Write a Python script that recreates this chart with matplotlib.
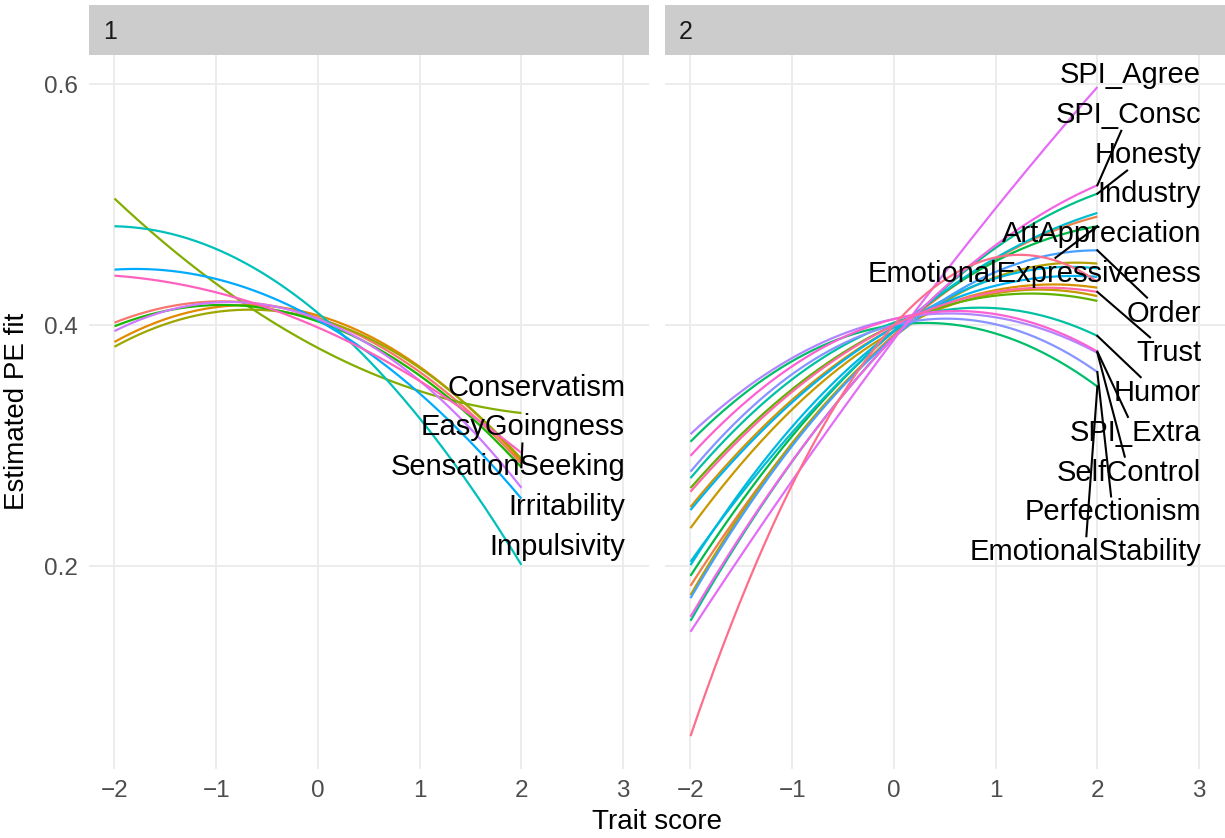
import numpy as np
import matplotlib
matplotlib.use("Agg")
from matplotlib import pyplot as plt

plt.rcParams["font.family"] = ["Liberation Sans", "DejaVu Sans"]

# traits in alphabetical order (ggplot colour order)
traits = ["Anxiety", "ArtAppreciation", "AttentionSeeking", "Authoritarianism",
          "Charisma", "Compassion", "Conformity", "Conservatism", "Creativity",
          "EasyGoingness", "EmotionalExpressiveness", "EmotionalStability",
          "Honesty", "Humor", "Impulsivity", "Industry", "Intellect",
          "Introspection", "Irritability", "Order", "Perfectionism",
          "SelfControl", "SensationSeeking", "SPI_Agree", "SPI_Consc",
          "SPI_Extra", "SPI_Neuro", "Trust", "WellBeing"]

# facet each trait is drawn in
facet = [1, 2, 1, 2, 2, 2, 1, 1, 2, 1, 2, 2, 2, 2, 1, 2, 2, 2, 1, 2, 2,
         2, 1, 2, 2, 2, 1, 2, 2]

# estimated PE fit at trait score -2, 0 and 2
fit_lo = [0.402, 0.1836, 0.386, 0.249, 0.2315, 0.1759, 0.382, 0.505, 0.2647,
          0.399, 0.1919, 0.3032, 0.1546, 0.273, 0.482, 0.2036, 0.2008, 0.2465,
          0.446, 0.1734, 0.2783, 0.3095, 0.395, 0.1455, 0.1579, 0.2915, 0.441,
          0.2617, 0.0589]
fit_mid = [0.406, 0.392, 0.408, 0.398, 0.395, 0.390, 0.405, 0.381, 0.400,
           0.403, 0.395, 0.400, 0.390, 0.402, 0.410, 0.395, 0.395, 0.398,
           0.404, 0.390, 0.400, 0.405, 0.405, 0.388, 0.390, 0.405, 0.398,
           0.400, 0.400]
fit_hi = [0.285, 0.490, 0.287, 0.431, 0.424, 0.451, 0.289, 0.327, 0.420,
          0.282, 0.482, 0.349, 0.509, 0.391, 0.201, 0.493, 0.447, 0.440,
          0.256, 0.462, 0.361, 0.377, 0.265, 0.5975, 0.516, 0.378, 0.294,
          0.4275, 0.436]

labels_1 = ["Conservatism", "EasyGoingness", "SensationSeeking",
            "Irritability", "Impulsivity"]
labels_2 = ["SPI_Agree", "SPI_Consc", "Honesty", "Industry", "ArtAppreciation",
            "EmotionalExpressiveness", "Order", "Trust", "Humor", "SPI_Extra",
            "SelfControl", "Perfectionism", "EmotionalStability"]


def hue_pal(n, c=100.0, l=65.0):
    # same as scales::hue_pal() -> hcl(h, c, l)
    hues = np.linspace(15, 375, n + 1)[:n]
    Xn, Yn, Zn = 95.047, 100.0, 108.883
    un = 4 * Xn / (Xn + 15 * Yn + 3 * Zn)
    vn = 9 * Yn / (Xn + 15 * Yn + 3 * Zn)
    out = []
    for h in hues:
        U = c * np.cos(np.radians(h))
        V = c * np.sin(np.radians(h))
        Y = Yn * ((l + 16) / 116) ** 3
        u = U / (13 * l) + un
        v = V / (13 * l) + vn
        X = 9 * Y * u / (4 * v)
        Z = -X / 3 - 5 * Y + 3 * Y / v
        X, Y2, Z = X / 100, Y / 100, Z / 100
        rgb = np.array([3.240479 * X - 1.537150 * Y2 - 0.498535 * Z,
                        -0.969256 * X + 1.875992 * Y2 + 0.041556 * Z,
                        0.055648 * X - 0.204043 * Y2 + 1.057311 * Z])
        rgb = np.where(rgb <= 0.0031308, 12.92 * rgb,
                       1.055 * np.abs(rgb) ** (1 / 2.4) - 0.055)
        out.append(tuple(np.clip(rgb, 0, 1)))
    return out


cols = hue_pal(len(traits))
xs = np.linspace(-2, 2, 200)

fig = plt.figure(figsize=(12.25, 8.38), dpi=100)
grid_col = "#EBEBEB"
axes = []
lefts = [0.0727, 0.5429]
w = 0.4567
bottom, top = 0.0829, 0.9348
for k, left in enumerate(lefts):
    ax = fig.add_axes([left, bottom, w, top - bottom])
    ax.set_xlim(-2.25, 3.25)
    ax.set_ylim(0.032, 0.6244)
    ax.set_xticks([-2, -1, 0, 1, 2, 3])
    ax.set_xticklabels(["\u22122", "\u22121", "0", "1", "2", "3"])
    ax.set_yticks([0.2, 0.4, 0.6])
    if k == 0:
        ax.set_yticklabels(["0.2", "0.4", "0.6"])
    else:
        ax.set_yticklabels([])
    ax.grid(True, color=grid_col, linewidth=1.3)
    ax.set_axisbelow(True)
    for s in ax.spines.values():
        s.set_visible(False)
    ax.tick_params(length=0, labelsize=17.5, colors="#4D4D4D", pad=8)
    # facet strip
    sax = fig.add_axes([left, top, w, 0.994 - top])
    sax.set_facecolor("#CCCCCC")
    sax.set_xticks([])
    sax.set_yticks([])
    for s in sax.spines.values():
        s.set_visible(False)
    sax.text(0.025, 0.45, str(k + 1), transform=sax.transAxes, ha="left",
             va="center", fontsize=18, color="#1A1A1A")
    axes.append(ax)

for i, t in enumerate(traits):
    a = (fit_hi[i] + fit_lo[i] - 2 * fit_mid[i]) / 8
    b = (fit_hi[i] - fit_lo[i]) / 4
    c = fit_mid[i]
    ax = axes[facet[i] - 1]
    ax.plot(xs, a * xs ** 2 + b * xs + c, color=cols[i], linewidth=1.6,
            solid_capstyle="butt")

# repel-style labels stacked at the right
lab_text = []
for ax, labs, y0 in [(axes[0], labels_1, 0.348), (axes[1], labels_2, 0.6075)]:
    for j, lab in enumerate(labs):
        tx = ax.text(3.02, y0 - j * 0.033, lab, ha="right", va="center",
                     fontsize=21, color="black", zorder=5)
        lab_text.append((ax, lab, tx))

fig.canvas.draw()
rend = fig.canvas.get_renderer()
for ax, lab, tx in lab_text:
    i = traits.index(lab)
    p = ax.transData.transform((2.0, fit_hi[i]))
    bb = tx.get_window_extent(rend)
    x0, y0, x1, y1 = bb.x0 - 2, bb.y0 - 2, bb.x1 + 2, bb.y1 + 2
    if x0 <= p[0] <= x1 and y0 <= p[1] <= y1:
        continue
    cx, cy = (x0 + x1) / 2, (y0 + y1) / 2
    dx, dy = cx - p[0], cy - p[1]
    ts = []
    if dx != 0:
        for xe in (x0, x1):
            tt = (xe - p[0]) / dx
            yy = p[1] + tt * dy
            if 0 < tt <= 1 and y0 <= yy <= y1:
                ts.append(tt)
    if dy != 0:
        for ye in (y0, y1):
            tt = (ye - p[1]) / dy
            xx = p[0] + tt * dx
            if 0 < tt <= 1 and x0 <= xx <= x1:
                ts.append(tt)
    if not ts:
        continue
    tt = min(ts)
    q = (p[0] + tt * dx, p[1] + tt * dy)
    if np.hypot(q[0] - p[0], q[1] - p[1]) < 13:
        continue
    inv = ax.transData.inverted()
    pd_, qd = inv.transform(p), inv.transform(q)
    ax.plot([pd_[0], qd[0]], [pd_[1], qd[1]], color="black", linewidth=1.5,
            zorder=4, clip_on=False)

fig.text(0.5 * (lefts[0] + lefts[1] + w), 0.004, "Trait score", ha="center",
         va="bottom", fontsize=20)
fig.text(0.003, 0.5 * (bottom + top), "Estimated PE fit", rotation=90,
         ha="left", va="center", fontsize=20)

fig.savefig("out.png", dpi=100)
